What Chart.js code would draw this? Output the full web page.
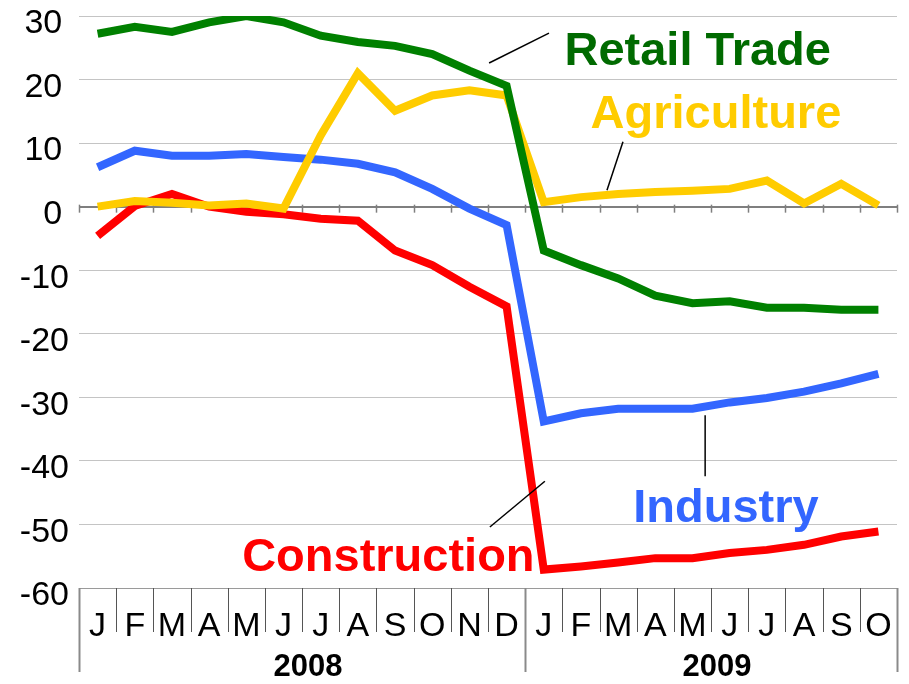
<!DOCTYPE html>
<html>
<head>
<meta charset="utf-8">
<script src="https://cdn.jsdelivr.net/npm/chart.js@4.4.1/dist/chart.umd.min.js"></script>
<style>
  html, body { margin: 0; padding: 0; background: #fff; }
  #wrap { width: 909px; height: 684px; }
</style>
</head>
<body>
<div id="wrap"><canvas id="mainChart" width="909" height="684"></canvas></div>
<script>
// months Jan 2008 .. Oct 2009
const months = ['J','F','M','A','M','J','J','A','S','O','N','D','J','F','M','A','M','J','J','A','S','O'];
const years = ['2008', '2009'];
const yearFirst = [0, 12];
const yearLast = [11, 21];

const retail = [27.2, 28.3, 27.5, 29.0, 30.0, 29.0, 26.9, 25.9, 25.3, 24.0, 21.4, 19.0,
                -6.9, -9.2, -11.3, -14.0, -15.2, -14.9, -15.9, -15.9, -16.2, -16.2];
const agriculture = [0.0, 0.9, 0.6, 0.2, 0.5, -0.3, 11.2, 21.0, 15.1, 17.5, 18.3, 17.5,
                     0.7, 1.5, 2.0, 2.3, 2.5, 2.8, 4.1, 0.5, 3.6, 0.2];
const industry = [6.2, 8.8, 8.0, 8.0, 8.3, 7.8, 7.4, 6.75, 5.4, 2.8, -0.3, -2.9,
                  -33.8, -32.5, -31.8, -31.8, -31.8, -30.8, -30.1, -29.1, -27.8, -26.3];
const construction = [-4.6, 0.1, 2.0, 0.0, -0.8, -1.2, -1.9, -2.2, -6.9, -9.2, -12.6, -15.7,
                      -57.1, -56.6, -56.0, -55.3, -55.3, -54.5, -54.0, -53.2, -51.9, -51.1];

const yMin = -60, yMax = 30, yStep = 10;

// text labels with leader lines, placed in data units (x = month index, y = value)
const notes = [
  { text: 'Retail Trade', color: '#006a00', x: 16.14, y: 22.3, line: [10.53, 22.6, 12.14, 27.3] },
  { text: 'Agriculture', color: '#ffcc00', x: 16.63, y: 12.4, line: [13.70, 2.6, 14.13, 10.2] },
  { text: 'Industry', color: '#3366ff', x: 16.90, y: -49.6, line: [16.34, -32.8, 16.34, -42.4] },
  { text: 'Construction', color: '#ff0000', x: 7.82, y: -57.4, line: [10.55, -50.4, 12.03, -43.2] }
];

const FONT = "'Liberation Sans', Arial, sans-serif";

const overlay = {
  id: 'overlay',
  beforeDatasetsDraw(chart) {
    const ctx = chart.ctx, xs = chart.scales.x, ys = chart.scales.y;
    const y0 = ys.getPixelForValue(0);
    ctx.save();
    ctx.strokeStyle = '#7f7f7f';
    ctx.lineWidth = 1.5;
    for (let i = 0; i <= months.length; i++) {
      const x = Math.round(xs.getPixelForValue(i - 0.5)) + 0.5;
      ctx.beginPath();
      ctx.moveTo(x, y0 - 2);
      ctx.lineTo(x, y0 + 6);
      ctx.stroke();
    }
    ctx.restore();
  },
  afterDraw(chart) {
    const ctx = chart.ctx, xs = chart.scales.x, ys = chart.scales.y;
    const bottom = chart.chartArea.bottom;
    ctx.save();
    // month and year separators under the axis
    for (let i = 0; i <= months.length; i++) {
      const isYear = i === 0 || i === months.length || yearFirst.includes(i);
      const x = Math.round(xs.getPixelForValue(i - 0.5)) + 0.5;
      ctx.strokeStyle = isYear ? '#8a8a8a' : '#555';
      ctx.lineWidth = isYear ? 2 : 1;
      ctx.beginPath();
      ctx.moveTo(x, bottom);
      ctx.lineTo(x, bottom + (isYear ? 84 : 44));
      ctx.stroke();
    }
    // year labels
    ctx.fillStyle = '#000';
    ctx.font = 'bold 31px ' + FONT;
    ctx.textAlign = 'center';
    ctx.textBaseline = 'middle';
    years.forEach((yr, k) => {
      const cx = (xs.getPixelForValue(yearFirst[k] - 0.5) + xs.getPixelForValue(yearLast[k] + 0.5)) / 2;
      ctx.fillText(yr, cx + 6, bottom + 79);
    });
    // series labels and leader lines
    notes.forEach(n => {
      ctx.strokeStyle = '#000';
      ctx.lineWidth = 1.5;
      ctx.beginPath();
      ctx.moveTo(xs.getPixelForValue(n.line[0]), ys.getPixelForValue(n.line[1]));
      ctx.lineTo(xs.getPixelForValue(n.line[2]), ys.getPixelForValue(n.line[3]));
      ctx.stroke();
      ctx.fillStyle = n.color;
      ctx.font = 'bold 47px ' + FONT;
      ctx.textAlign = 'center';
      ctx.textBaseline = 'alphabetic';
      ctx.fillText(n.text, xs.getPixelForValue(n.x), ys.getPixelForValue(n.y));
    });
    ctx.restore();
  }
};

const lineStyle = { borderWidth: 8, pointRadius: 0, tension: 0, fill: false };

new Chart(document.getElementById('mainChart').getContext('2d'), {
  type: 'line',
  data: {
    labels: months,
    datasets: [
      { label: 'Retail Trade', data: retail, borderColor: '#008000', ...lineStyle },
      { label: 'Agriculture', data: agriculture, borderColor: '#ffcc00', ...lineStyle },
      { label: 'Industry', data: industry, borderColor: '#3366ff', ...lineStyle },
      { label: 'Construction', data: construction, borderColor: '#ff0000', ...lineStyle }
    ]
  },
  options: {
    responsive: false,
    animation: false,
    layout: { padding: { top: 16, right: 12, left: 0, bottom: 0 } },
    plugins: { legend: { display: false }, tooltip: { enabled: false } },
    scales: {
      x: {
        type: 'category',
        offset: true,
        grid: { display: false, drawTicks: false },
        border: { display: false },
        ticks: {
          autoSkip: false, maxRotation: 0, minRotation: 0,
          padding: 0,
          color: '#000',
          font: { family: FONT, size: 34, lineHeight: 2.3 }
        },
        afterFit(scale) { scale.height = 96; }
      },
      y: {
        min: yMin, max: yMax,
        grid: {
          drawTicks: false,
          color: c => c.tick.value === 0 ? '#7f7f7f' : (c.tick.value === yMin ? '#9a9a9a' : '#c4c4c4'),
          lineWidth: c => c.tick.value === 0 ? 2 : 1
        },
        border: { display: false },
        ticks: {
          stepSize: yStep,
          padding: 10,
          labelOffset: 8,
          color: '#000',
          font: { family: FONT, size: 34, lineHeight: 0.3 },
          callback: v => v < 0 ? String(v) : v + '\u2009'
        },
        afterFit(scale) { scale.width = 79; }
      }
    }
  },
  plugins: [overlay]
});
</script>
</body>
</html>
